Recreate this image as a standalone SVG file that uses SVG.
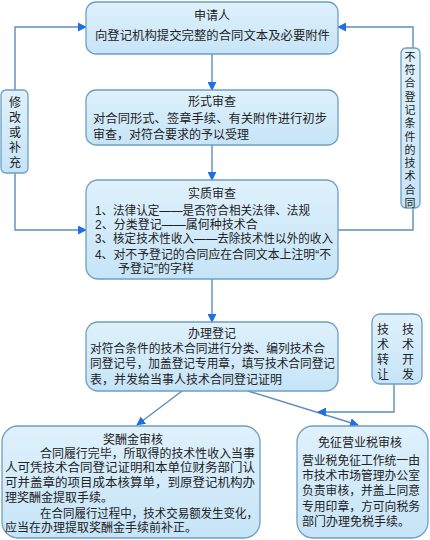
<svg xmlns="http://www.w3.org/2000/svg" width="430" height="540" viewBox="0 0 430 540">
<defs>
<linearGradient id="g" x1="0" y1="0" x2="0" y2="1">
<stop offset="0" stop-color="#dff1fc"/>
<stop offset="1" stop-color="#c6e4f7"/>
</linearGradient>
<marker id="ah" viewBox="0 0 10 10" refX="9" refY="5" markerWidth="9" markerHeight="9" markerUnits="userSpaceOnUse" orient="auto">
<path d="M0,0 L10,5 L0,10 z" fill="#1f6fe0"/>
</marker>
</defs>
<style>
.box{fill:url(#g);stroke:#6f9fc2;stroke-width:1.3}
.t{font-family:"Liberation Sans","Noto Sans CJK SC","Noto Sans CJK JP",sans-serif;font-size:12px;fill:#222}
.v{font-size:11px}
.c{text-anchor:middle}
.ln{fill:none;stroke:#5b8dbf;stroke-width:1.4}
.ar{marker-end:url(#ah)}
</style>
<rect width="430" height="540" fill="#ffffff"/>

<g id="connectors">
<line class="ln ar" x1="212" y1="54" x2="212" y2="90"/>
<line class="ln ar" x1="212" y1="145" x2="212" y2="180"/>
<line class="ln ar" x1="212" y1="279" x2="212" y2="322"/>
<polyline class="ln ar" points="15,90 15,27 86,27"/>
<polyline class="ln ar" points="15,173 15,230 86,230"/>
<polyline class="ln ar" points="413,48 413,27 338,27"/>
<polyline class="ln" points="338,230 413,230 413,208"/>
<line class="ln ar" x1="182" y1="391" x2="137" y2="425"/>
<line class="ln ar" x1="248" y1="391" x2="358" y2="425"/>
<polyline class="ln ar" points="394,384 394,412 318,412"/>
</g>

<g id="n1">
<rect class="box" x="86" y="2" width="252" height="52" rx="10"/>
<text class="t c" x="212" y="20">申请人</text>
<text class="t" x="95" y="40" textLength="235" lengthAdjust="spacingAndGlyphs">向登记机构提交完整的合同文本及必要附件</text>
</g>

<g id="n2">
<rect class="box" x="86" y="90" width="252" height="55" rx="10"/>
<text class="t c" x="212" y="106">形式审查</text>
<text class="t" x="93" y="123" textLength="234" lengthAdjust="spacingAndGlyphs">对合同形式、签章手续、有关附件进行初步</text>
<text class="t" x="93" y="139">审查，对符合要求的予以受理</text>
</g>

<g id="n3">
<rect class="box" x="86" y="180" width="252" height="99" rx="12"/>
<text class="t c" x="212" y="198">实质审查</text>
<text class="t" x="95" y="215" textLength="215" lengthAdjust="spacingAndGlyphs">1、法律认定——是否符合相关法律、法规</text>
<text class="t" x="95" y="229">2、分类登记——属何种技术合</text>
<text class="t" x="95" y="243" textLength="238" lengthAdjust="spacingAndGlyphs">3、核定技术性收入——去除技术性以外的收入</text>
<text class="t" x="95" y="259" textLength="236" lengthAdjust="spacingAndGlyphs">4、对不予登记的合同应在合同文本上注明“不</text>
<text class="t" x="118" y="273">予登记”的字样</text>
</g>

<g id="n4">
<rect class="box" x="86" y="322" width="252" height="69" rx="12"/>
<text class="t c" x="212" y="338">办理登记</text>
<text class="t" x="90" y="353" textLength="235" lengthAdjust="spacingAndGlyphs">对符合条件的技术合同进行分类、编列技术合</text>
<text class="t" x="90" y="368" textLength="245" lengthAdjust="spacingAndGlyphs">同登记号，加盖登记专用章，填写技术合同登记</text>
<text class="t" x="90" y="384">表，并发给当事人技术合同登记证明</text>
</g>

<g id="n5">
<rect class="box" x="1" y="90" width="27" height="83" rx="5"/>
<text class="t c" x="15"><tspan x="15" y="107">修</tspan><tspan x="15" y="122">改</tspan><tspan x="15" y="137">或</tspan><tspan x="15" y="152">补</tspan><tspan x="15" y="167">充</tspan></text>
</g>

<g id="n6">
<rect class="box" x="401" y="48" width="19" height="160" rx="5"/>
<text class="t v c" x="410"><tspan x="410" y="61">不</tspan><tspan x="410" y="74">符</tspan><tspan x="410" y="87">合</tspan><tspan x="410" y="101">登</tspan><tspan x="410" y="114">记</tspan><tspan x="410" y="127">条</tspan><tspan x="410" y="141">件</tspan><tspan x="410" y="154">的</tspan><tspan x="410" y="167">技</tspan><tspan x="410" y="180">术</tspan><tspan x="410" y="194">合</tspan><tspan x="410" y="207">同</tspan></text>
</g>

<g id="n7">
<rect class="box" x="372" y="314" width="50" height="70" rx="8"/>
<text class="t c"><tspan x="383" y="334">技</tspan><tspan x="383" y="349">术</tspan><tspan x="383" y="364">转</tspan><tspan x="383" y="379">让</tspan></text>
<text class="t c"><tspan x="408" y="334">技</tspan><tspan x="408" y="349">术</tspan><tspan x="408" y="364">开</tspan><tspan x="408" y="379">发</tspan></text>
</g>

<g id="n8">
<rect class="box" x="2" y="426" width="258" height="112" rx="16"/>
<text class="t c" x="133" y="444">奖酬金审核</text>
<text class="t" x="40" y="458" textLength="215" lengthAdjust="spacingAndGlyphs">合同履行完毕，所取得的技术性收入当事</text>
<text class="t" x="5" y="472" textLength="250" lengthAdjust="spacingAndGlyphs">人可凭技术合同登记证明和本单位财务部门认</text>
<text class="t" x="5" y="487" textLength="250" lengthAdjust="spacingAndGlyphs">可并盖章的项目成本核算单，到原登记机构办</text>
<text class="t" x="5" y="502">理奖酬金提取手续。</text>
<text class="t" x="40" y="518" textLength="218" lengthAdjust="spacingAndGlyphs">在合同履行过程中，技术交易额发生变化，</text>
<text class="t" x="5" y="532">应当在办理提取奖酬金手续前补正。</text>
</g>

<g id="n9">
<rect class="box" x="297" y="426" width="131" height="112" rx="16"/>
<text class="t c" x="360" y="447">免征营业税审核</text>
<text class="t" x="302" y="465" textLength="118" lengthAdjust="spacingAndGlyphs">营业税免征工作统一由</text>
<text class="t" x="302" y="480" textLength="118" lengthAdjust="spacingAndGlyphs">市技术市场管理办公室</text>
<text class="t" x="302" y="495" textLength="118" lengthAdjust="spacingAndGlyphs">负责审核，并盖上同意</text>
<text class="t" x="302" y="511" textLength="118" lengthAdjust="spacingAndGlyphs">专用印章，方可向税务</text>
<text class="t" x="302" y="526">部门办理免税手续。</text>
</g>
</svg>
